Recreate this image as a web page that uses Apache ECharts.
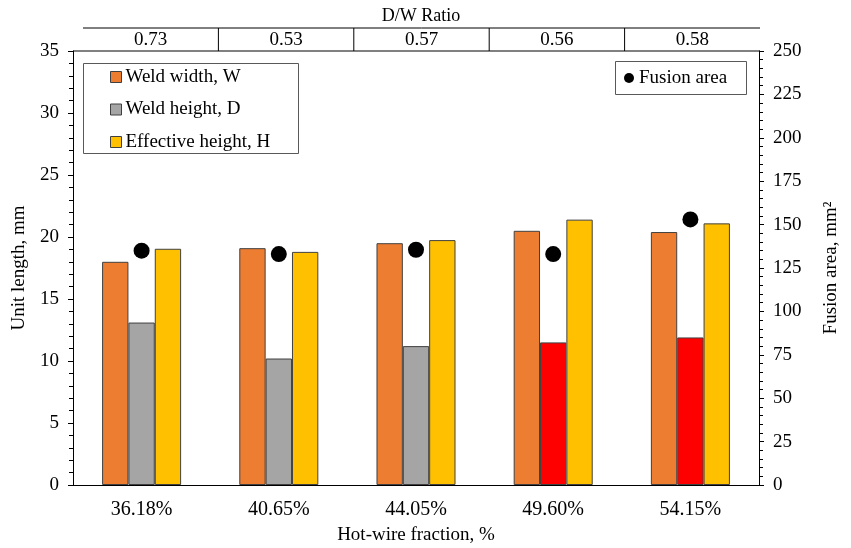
<!DOCTYPE html>
<html>
<head>
<meta charset="utf-8">
<script src="https://cdn.jsdelivr.net/npm/echarts@6/dist/echarts.min.js"></script>
<style>
  html, body { margin: 0; padding: 0; background: #fff; }
  #chart { width: 851px; height: 548px; }
</style>
</head>
<body>
<div id="chart"></div>
<script>
// data
var categories = ['36.18%', '40.65%', '44.05%', '49.60%', '54.15%'];
var weldWidth = [18.0, 19.1, 19.5, 20.5, 20.4];
var weldHeight = [13.1, 10.2, 11.2, 11.5, 11.9];
var effHeight = [19.05, 18.8, 19.75, 21.4, 21.1];
var fusionArea = [135, 133, 135.5, 133, 153];
var dwRatio = ['0.73', '0.53', '0.57', '0.56', '0.58'];
// last two weld heights are drawn red in the source
var heightColors = ['#a5a5a5', '#a5a5a5', '#a5a5a5', '#ff0000', '#ff0000'];

var font = '"Liberation Serif", "Times New Roman", serif';
var txt = { fontFamily: font, fontSize: 19, color: '#000' };

var barBorder = { borderColor: '#404040', borderWidth: 1 };

// top D/W table
var tblLeft = 83, tblRight = 760, tblTop = 28, tblBottom = 51;
var colW = (tblRight - tblLeft) / dwRatio.length;
var graphics = [
  { type: 'text', x: 421, y: 16, style: { text: 'D/W Ratio', fontFamily: font, fontSize: 18, fill: '#000', align: 'center', verticalAlign: 'middle' } },
  { type: 'line', shape: { x1: tblLeft, y1: tblTop, x2: tblRight, y2: tblTop }, style: { stroke: '#000', lineWidth: 1 } },
  { type: 'line', shape: { x1: 73, y1: tblBottom, x2: tblRight, y2: tblBottom }, style: { stroke: '#808080', lineWidth: 2 } },
  // legend boxes
  { type: 'rect', shape: { x: 83.5, y: 63.5, width: 215, height: 90 }, style: { fill: 'none', stroke: '#595959', lineWidth: 1 } },
  { type: 'rect', shape: { x: 615.5, y: 61.5, width: 131, height: 33 }, style: { fill: 'none', stroke: '#595959', lineWidth: 1 } }
];
dwRatio.forEach(function (r, i) {
  if (i > 0) {
    graphics.push({ type: 'line', shape: { x1: tblLeft + colW * i, y1: tblTop, x2: tblLeft + colW * i, y2: tblBottom }, style: { stroke: '#000', lineWidth: 1 } });
  }
  graphics.push({ type: 'text', x: tblLeft + colW * (i + 0.5), y: 40, style: { text: r, fontFamily: font, fontSize: 19, fill: '#000', align: 'center', verticalAlign: 'middle' } });
});

var option = {
  backgroundColor: '#fff',
  animation: false,
  textStyle: { fontFamily: font },
  grid: { left: 73, right: 92, top: 51, bottom: 63, outerBoundsMode: 'none', containLabel: false },
  legend: [
    {
      data: [
        { name: 'Weld width, W', icon: 'rect' },
        { name: 'Weld height, D', icon: 'rect' },
        { name: 'Effective height, H', icon: 'rect' }
      ],
      orient: 'vertical',
      left: 110, top: 67,
      itemWidth: 11, itemHeight: 11,
      itemGap: 12.5,
      padding: 0,
      textStyle: { fontFamily: font, fontSize: 19, color: '#000', lineHeight: 20, padding: [0, 0, 0, -1] },
      itemStyle: { borderColor: '#404040', borderWidth: 1 }
    },
    {
      data: [{ name: 'Fusion area', icon: 'circle' }],
      left: 624, top: 68,
      itemWidth: 10, itemHeight: 10,
      padding: 0,
      textStyle: { fontFamily: font, fontSize: 19, color: '#000', lineHeight: 20, padding: [0, 0, 0, 0] }
    }
  ],
  xAxis: {
    type: 'category',
    data: categories,
    name: 'Hot-wire fraction, %',
    nameLocation: 'middle',
    nameGap: 41,
    nameTextStyle: txt,
    axisLine: { lineStyle: { color: '#000', width: 1 } },
    axisTick: { show: false },
    axisLabel: Object.assign({ margin: 15 }, txt, { fontSize: 20 })
  },
  yAxis: [
    {
      type: 'value', min: 0, max: 35, interval: 5,
      name: 'Unit length, mm',
      nameLocation: 'middle',
      nameGap: 44,
      nameTextStyle: txt,
      axisLine: { show: true, lineStyle: { color: '#000', width: 1 } },
      axisTick: { show: true, length: 5, lineStyle: { color: '#000' } },
      minorTick: { show: true, splitNumber: 5, length: 4, lineStyle: { color: '#000' } },
      splitLine: { show: false },
      axisLabel: Object.assign({ margin: 14 }, txt)
    },
    {
      type: 'value', min: 0, max: 250, interval: 25,
      name: 'Fusion area, mm\u00b2',
      nameLocation: 'middle',
      nameGap: 63,
      nameRotate: 90,
      nameTextStyle: txt,
      axisLine: { show: true, lineStyle: { color: '#000', width: 1 } },
      axisTick: { show: true, length: 5, lineStyle: { color: '#000' } },
      minorTick: { show: true, splitNumber: 5, length: 4, lineStyle: { color: '#000' } },
      splitLine: { show: false },
      axisLabel: Object.assign({ margin: 14 }, txt)
    }
  ],
  series: [
    {
      name: 'Weld width, W', type: 'bar', data: weldWidth,
      barWidth: '19.2%', barGap: '0%',
      itemStyle: Object.assign({ color: '#ed7d31' }, barBorder)
    },
    {
      name: 'Weld height, D', type: 'bar',
      data: weldHeight.map(function (v, i) { return { value: v, itemStyle: { color: heightColors[i] } }; }),
      barWidth: '19.2%', barGap: '0%',
      itemStyle: Object.assign({ color: '#a5a5a5' }, barBorder)
    },
    {
      name: 'Effective height, H', type: 'bar', data: effHeight,
      barWidth: '19.2%', barGap: '0%',
      itemStyle: Object.assign({ color: '#ffc000' }, barBorder)
    },
    {
      name: 'Fusion area', type: 'scatter', yAxisIndex: 1, data: fusionArea,
      symbol: 'circle', symbolSize: 16,
      itemStyle: { color: '#000', opacity: 1 }, z: 5
    }
  ],
  graphic: graphics
};

var myChart = echarts.init(document.getElementById('chart'));
myChart.setOption(option);
</script>
</body>
</html>
